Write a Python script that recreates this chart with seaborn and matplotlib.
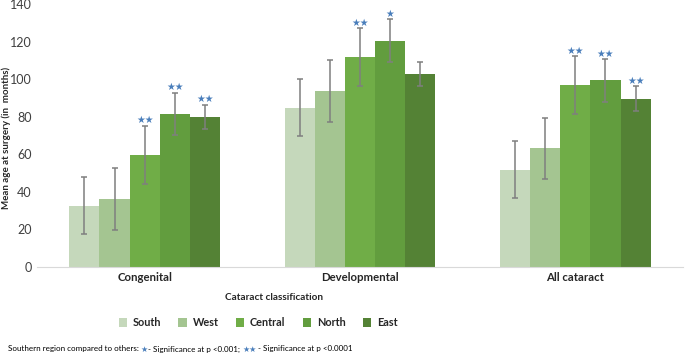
import numpy as np
import pandas as pd
import seaborn as sns
import matplotlib.pyplot as plt
from matplotlib.offsetbox import TextArea, HPacker, AnchoredOffsetbox

# data
categories = ["Congenital", "Developmental", "All cataract"]
regions = ["South", "West", "Central", "North", "East"]
south = [32.4, 84.6, 51.6]
west = [36.3, 93.4, 63.0]
central = [59.6, 111.6, 96.8]
north = [81.5, 120.5, 99.3]
east = [79.8, 102.7, 89.5]
errors = [15.2, 16.5, 15.4, 11.3, 6.6]  # same +/- per region
# significance stars per region (rows) and category (cols)
stars = [["", "", ""],
         ["", "", ""],
         ["★★", "★★", "★★"],
         ["★★", "★", "★★"],
         ["★★", "", "★★"]]

colors = ["#c5d8bb", "#a4c591", "#70ad47", "#629d3e", "#548235"]
star_color = "#4a7ebb"

rows = []
for reg, vals in zip(regions, [south, west, central, north, east]):
    for cat, v in zip(categories, vals):
        rows.append({"classification": cat, "region": reg, "value": v})
df = pd.DataFrame(rows)

sns.set_style("white")
plt.rcParams["font.family"] = ["Lato", "DejaVu Sans"]

fig = plt.figure(figsize=(6.85, 3.55), dpi=100)
ax = fig.add_axes([37 / 685, 1 - 266.7 / 355, 646 / 685, 262.7 / 355])

sns.barplot(data=df, x="classification", y="value", hue="region",
            order=categories, hue_order=regions, palette=colors,
            width=0.7, gap=0, saturation=1, errorbar=None, ax=ax,
            edgecolor="none", linewidth=0)

# error bars and stars
bar_conts = list(ax.containers)
for i, cont in enumerate(bar_conts):
    for j, bar in enumerate(cont):
        xc = bar.get_x() + bar.get_width() / 2
        h = bar.get_height()
        ax.errorbar(xc, h, yerr=errors[i], fmt="none", ecolor="#7f7f7f",
                    elinewidth=1.1, capsize=2.5, capthick=1.1)
        if stars[i][j]:
            ax.text(xc, h + errors[i] + 0.3, stars[i][j], color=star_color,
                    ha="center", va="bottom", fontsize=7,
                    family=["DejaVu Sans"])

ax.set_xlim(-0.5, 2.5)
ax.set_ylim(0, 140)
ax.set_yticks(range(0, 141, 20))
ax.tick_params(axis="y", labelsize=9, labelcolor="#404040", length=0, pad=4)
ax.tick_params(axis="x", labelsize=8.2, length=0, pad=4)
for lab in ax.get_xticklabels():
    lab.set_fontweight("bold")
for s in ["left", "right", "top"]:
    ax.spines[s].set_visible(False)
ax.spines["bottom"].set_color("#d9d9d9")
ax.set_xlabel("")
ax.set_ylabel("")

fig.text(6 / 685, 1 - 138 / 355, "Mean age at surgery (in  months)",
         rotation=90, ha="center", va="center", fontsize=7,
         fontweight="bold")
fig.text(274 / 685, 1 - 298 / 355, "Cataract classification", ha="center",
         va="center", fontsize=7.2, fontweight="bold")

handles, labels = ax.get_legend_handles_labels()
ax.get_legend().remove()
fig.legend(handles, labels, loc="center", ncol=5,
           bbox_to_anchor=(258 / 685, 1 - 323 / 355), frameon=False,
           prop={"weight": "bold", "size": 7.8}, handlelength=0.75,
           handleheight=0.9, handletextpad=0.55, columnspacing=1.6)

# footnote with blue stars
parts = [("Southern region compared to others: ", "black"),
         ("★", star_color),
         ("- Significance at p <0.001; ", "black"),
         ("★★", star_color),
         (" - Significance at p <0.0001", "black")]
areas = [TextArea(t, textprops=dict(color=c, fontsize=5.8,
                                    family=["Lato", "DejaVu Sans"]))
         for t, c in parts]
box = HPacker(children=areas, align="baseline", pad=0, sep=0)
anch = AnchoredOffsetbox(loc="center left", child=box, pad=0, frameon=False,
                         bbox_to_anchor=(8 / 685, 1 - 349 / 355),
                         bbox_transform=fig.transFigure, borderpad=0)
fig.add_artist(anch)

fig.savefig("out.png", dpi=100)
